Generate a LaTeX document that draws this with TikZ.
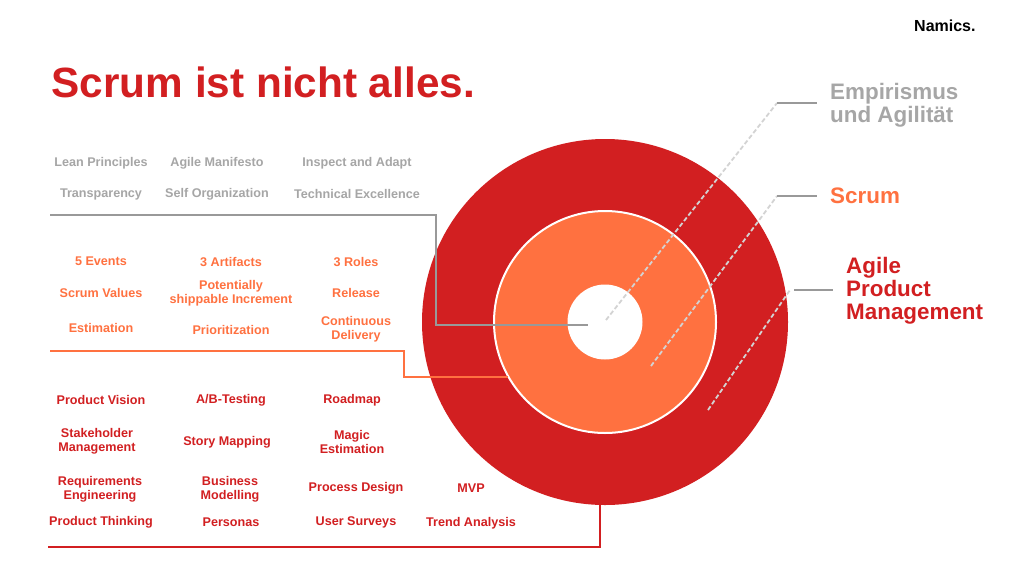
\documentclass[tikz,border=0pt]{standalone}
\usepackage{fontspec}
\setmainfont{Liberation Sans}
\definecolor{nred}{HTML}{D21F21}
\definecolor{norange}{HTML}{FF7140}
\definecolor{ngray}{HTML}{A6A6A6}
\definecolor{nline}{HTML}{999999}
\definecolor{ndash}{HTML}{D3D3D3}
\begin{document}
\begin{tikzpicture}[x=1pt,y=-1pt,
  lbl/.style={font=\bfseries\fontsize{12.6}{14}\selectfont, align=center, inner sep=0pt, yshift=-1.5pt},
  glbl/.style={lbl, text=ngray},
  olbl/.style={lbl, text=norange},
  rlbl/.style={lbl, text=nred},
  big/.style={font=\bfseries\fontsize{22.4}{23}\selectfont, align=left, inner sep=0pt, anchor=west},
  bracket/.style={line width=2pt},
  leader/.style={line width=2pt, draw=nline},
  dashline/.style={line width=1.8pt, draw=ndash, dash pattern=on 4.5pt off 2.5pt}]
\useasboundingbox (0,0) rectangle (1024,576);
\fill[white] (0,0) rectangle (1024,576);

% title and logo
\node[font=\bfseries\fontsize{42.3}{46}\selectfont, text=nred, anchor=base west, inner sep=0pt] (title) at (51.5,97) {Scrum ist nicht alles.};
\node[font=\bfseries\fontsize{16}{18}\selectfont, text=black, anchor=base west, inner sep=0pt] (logo) at (914,31) {Namics.};

% circles
\node[circle, fill=nred, minimum size=366pt, inner sep=0pt] (apm) at (605,322) {};
\node[circle, fill=norange, draw=white, line width=2pt, minimum size=222pt, inner sep=0pt] (scr) at (605,322) {};
\node[circle, fill=white, minimum size=75pt, inner sep=0pt] (emp) at (605,322) {};

% gray labels
\node[glbl] (g1) at (101,162) {Lean Principles};
\node[glbl] (g2) at (217,162) {Agile Manifesto};
\node[glbl] (g3) at (357,162) {Inspect and Adapt};
\node[glbl] (g4) at (101,193) {Transparency};
\node[glbl] (g5) at (217,193) {Self Organization};
\node[glbl] (g6) at (357,192) {Technical Excellence};

% orange labels
\node[olbl] (o1) at (101,260) {5 Events};
\node[olbl] (o2) at (231,260) {3 Artifacts};
\node[olbl] (o3) at (356,260) {3 Roles};
\node[olbl] (o4) at (101,291) {Scrum Values};
\node[olbl] (o5) at (231,292) {Potentially\\shippable Increment};
\node[olbl] (o6) at (356,291) {Release};
\node[olbl] (o7) at (101,326) {Estimation};
\node[olbl] (o8) at (231,328) {Prioritization};
\node[olbl] (o9) at (356,328) {Continuous\\Delivery};

% red labels
\node[rlbl] (r1) at (101,398) {Product Vision};
\node[rlbl] (r2) at (231,399) {A/B-Testing};
\node[rlbl] (r3) at (352,399) {Roadmap};
\node[rlbl] (r4) at (97,440) {Stakeholder\\Management};
\node[rlbl] (r5) at (227,441) {Story Mapping};
\node[rlbl] (r6) at (352,440) {Magic\\Estimation};
\node[rlbl] (r7) at (100,488) {Requirements\\Engineering};
\node[rlbl] (r8) at (230,488) {Business\\Modelling};
\node[rlbl] (r9) at (356,487) {Process Design};
\node[rlbl] (r10) at (471,487) {MVP};
\node[rlbl] (r11) at (101,521) {Product Thinking};
\node[rlbl] (r12) at (231,521) {Personas};
\node[rlbl] (r13) at (356,521) {User Surveys};
\node[rlbl] (r14) at (471,522) {Trend Analysis};

% brackets
\coordinate (gs) at (50,215);
\coordinate (ge) at (588,325);
\draw[bracket, draw=nline] (gs) -- (436,215) -- (436,325) -- (ge);
\coordinate (os) at (50,351);
\coordinate (oe) at (508,377);
\draw[bracket, draw=norange] (os) -- (404,351) -- (404,377) -- (oe);
\coordinate (rs) at (48,547);
\draw[bracket, draw=nred] (rs) -- (600,547) -- (600,504);

% right labels
\node[big, text=ngray] (lemp) at (830,105) {Empirismus\\und Agilität};
\node[big, text=norange] (lscr) at (830,196) {Scrum};
\node[big, text=nred] (lapm) at (846,291) {Agile\\Product\\Management};

% leaders
\coordinate (d1a) at (606,320);
\coordinate (d1b) at (777,103);
\coordinate (d2a) at (651,366);
\coordinate (d2b) at (777,196);
\coordinate (d3a) at (708,410);
\coordinate (d3b) at (790,290);
\draw[dashline] (d1a) -- (d1b);
\draw[dashline] (d2a) -- (d2b);
\draw[dashline] (d3a) -- (d3b);
\draw[leader] (d1b) -- (817,103);
\draw[leader] (d2b) -- (817,196);
\draw[leader] (794,290) -- (833,290);
\end{tikzpicture}
\end{document}
